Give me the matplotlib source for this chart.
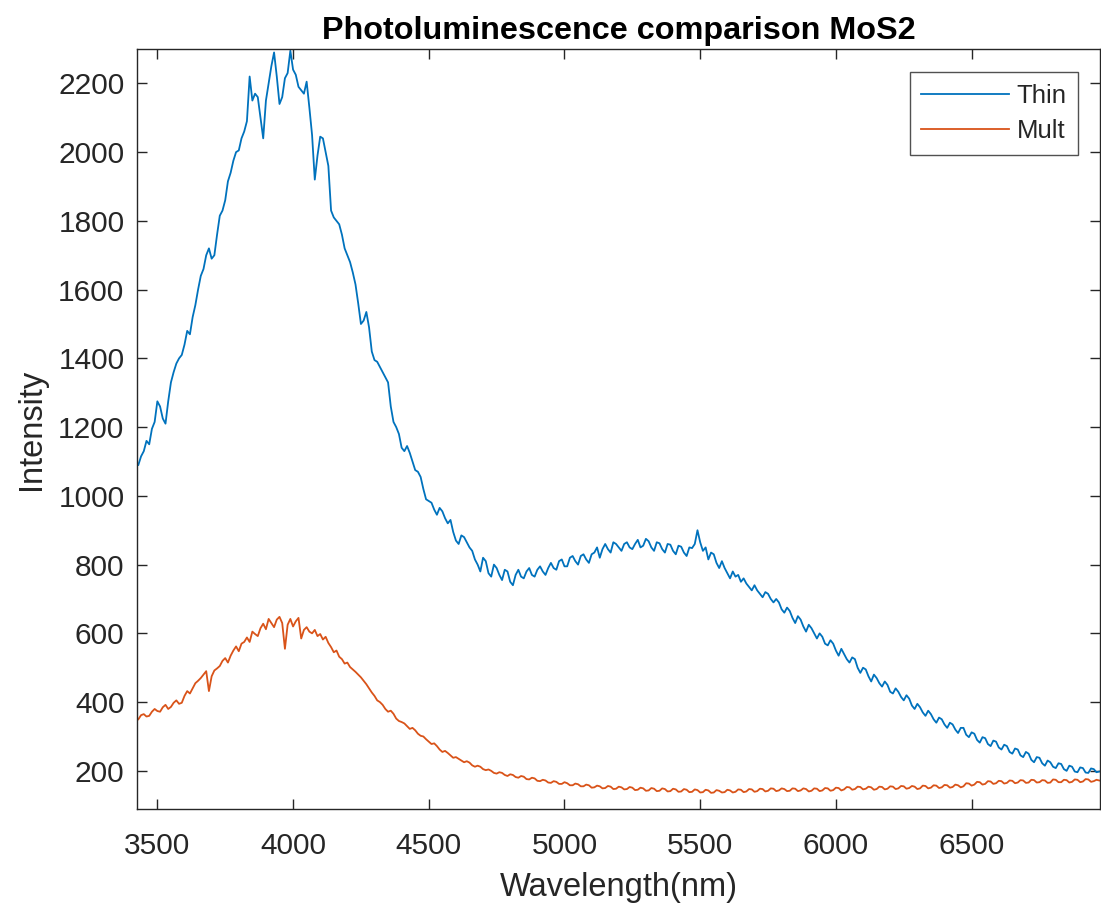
import numpy as np
import matplotlib
matplotlib.use("Agg")
import matplotlib.pyplot as plt

plt.rcParams['font.family'] = ['Liberation Sans', 'DejaVu Sans']

# Wavelength grid (nm), sampled every 10 nm
wavelength = np.arange(3430, 6971, 10)

thin = [
    1090, 1115, 1130, 1160, 1150, 1195, 1215, 1275, 1260, 1225, 1210, 1275, 1330, 1360, 1385, 1400, 1410, 1440, 1480, 1470,
    1520, 1555, 1600, 1640, 1660, 1700, 1720, 1690, 1700, 1760, 1815, 1830, 1860, 1915, 1940, 1975, 2000, 2005, 2040, 2060,
    2090, 2220, 2150, 2170, 2160, 2100, 2040, 2150, 2200, 2250, 2290, 2220, 2140, 2160, 2215, 2230, 2295, 2240, 2225, 2190,
    2180, 2170, 2205, 2130, 2050, 1920, 1990, 2045, 2040, 2000, 1960, 1830, 1810, 1800, 1790, 1760, 1720, 1700, 1680, 1650,
    1615, 1560, 1500, 1510, 1535, 1490, 1420, 1395, 1390, 1375, 1360, 1345, 1330, 1260, 1215, 1200, 1180, 1140, 1130, 1145,
    1125, 1100, 1075, 1070, 1055, 1020, 990, 985, 980, 960, 945, 965, 955, 935, 920, 930, 895, 870, 860, 885,
    880, 865, 850, 840, 815, 800, 780, 820, 810, 775, 765, 800, 790, 770, 755, 785, 780, 750, 740, 770,
    785, 765, 760, 780, 790, 770, 765, 785, 795, 780, 770, 790, 805, 790, 785, 810, 815, 795, 795, 820,
    825, 810, 800, 825, 830, 815, 805, 830, 835, 850, 820, 845, 860, 845, 835, 865, 860, 850, 840, 860,
    865, 850, 845, 860, 872, 850, 855, 875, 868, 850, 840, 865, 862, 845, 835, 860, 858, 840, 830, 855,
    852, 835, 825, 850, 848, 860, 900, 865, 840, 850, 815, 835, 830, 805, 790, 810, 790, 775, 760, 780,
    765, 770, 750, 760, 745, 735, 725, 740, 725, 715, 705, 720, 715, 700, 690, 700, 690, 670, 660, 675,
    665, 645, 630, 650, 640, 620, 605, 625, 615, 600, 585, 600, 590, 570, 565, 580, 570, 550, 535, 555,
    540, 525, 515, 530, 525, 500, 485, 500, 495, 475, 460, 480, 470, 455, 445, 460, 450, 430, 425, 440,
    430, 415, 405, 420, 410, 390, 380, 395, 385, 370, 360, 375, 365, 350, 340, 355, 350, 335, 325, 340,
    335, 320, 310, 325, 325, 305, 298, 312, 308, 290, 282, 298, 295, 278, 272, 288, 285, 268, 262, 276,
    272, 255, 250, 265, 262, 245, 240, 255, 250, 232, 225, 240, 238, 222, 215, 230, 225, 212, 208, 222,
    220, 205, 200, 215, 212, 198, 196, 210, 208, 195, 194, 207, 205, 196, 198,
]

mult = [
    350, 362, 365, 358, 360, 372, 380, 374, 372, 385, 392, 380, 386, 398, 405, 395, 398, 418, 432, 425,
    440, 455, 462, 470, 480, 490, 432, 475, 492, 498, 505, 520, 528, 515, 535, 550, 562, 548, 570, 575,
    588, 575, 605, 598, 592, 615, 628, 612, 642, 630, 618, 640, 648, 630, 555, 625, 642, 620, 635, 645,
    585, 610, 618, 605, 600, 610, 592, 598, 582, 590, 572, 560, 545, 550, 532, 525, 512, 515, 502, 495,
    488, 480, 472, 462, 452, 440, 428, 418, 405, 400, 392, 380, 372, 375, 366, 352, 345, 342, 338, 330,
    322, 325, 318, 308, 302, 300, 292, 285, 278, 280, 272, 262, 255, 258, 252, 245, 238, 240, 235, 230,
    225, 228, 224, 216, 212, 215, 212, 205, 202, 204, 200, 194, 192, 196, 194, 188, 185, 190, 188, 182,
    180, 185, 183, 176, 175, 180, 178, 171, 170, 174, 172, 166, 165, 170, 168, 162, 162, 167, 164, 158,
    158, 163, 161, 155, 155, 160, 158, 151, 152, 157, 155, 149, 150, 156, 154, 147, 148, 154, 152, 146,
    147, 153, 151, 144, 145, 151, 149, 142, 143, 150, 148, 141, 142, 149, 147, 140, 141, 148, 146, 139,
    140, 147, 145, 138, 139, 146, 144, 137, 138, 145, 143, 136, 137, 144, 142, 137, 138, 145, 143, 137,
    139, 146, 145, 138, 140, 147, 146, 139, 141, 148, 147, 140, 142, 149, 148, 141, 143, 149, 147, 141,
    142, 149, 148, 141, 143, 149, 147, 140, 142, 149, 148, 141, 143, 150, 149, 142, 144, 151, 150, 143,
    146, 153, 152, 145, 147, 154, 153, 146, 148, 154, 152, 145, 147, 154, 153, 146, 148, 155, 154, 147,
    149, 156, 155, 148, 150, 156, 154, 147, 149, 157, 156, 149, 151, 158, 157, 150, 152, 159, 158, 151,
    153, 160, 158, 152, 155, 164, 163, 157, 160, 168, 167, 160, 162, 170, 169, 162, 164, 171, 170, 163,
    165, 172, 171, 164, 166, 173, 172, 165, 166, 174, 173, 166, 167, 173, 172, 165, 166, 175, 174, 167,
    167, 174, 173, 166, 168, 175, 174, 167, 169, 176, 175, 168, 170, 174, 172,
]

series_names = ["Thin", "Mult"]
x_ticks = [3500, 4000, 4500, 5000, 5500, 6000, 6500]
y_ticks = [200, 400, 600, 800, 1000, 1200, 1400, 1600, 1800, 2000, 2200]

assert len(thin) == len(wavelength) == len(mult)

W, H = 1101, 905
fig = plt.figure(figsize=(W / 100, H / 100), dpi=100)
ax = fig.add_axes([137 / W, 1 - 809 / H, (1100 - 137) / W, (809 - 49) / H])

ax.plot(wavelength, thin, color='#0072BD', lw=1.3, label=series_names[0])
ax.plot(wavelength, mult, color='#D95319', lw=1.3, label=series_names[1])

ax.set_xlim(3425, 6973)
ax.set_ylim(89, 2300)
ax.set_xticks(x_ticks)
ax.set_yticks(y_ticks)

dark = '#262626'
for s in ax.spines.values():
    s.set_color(dark)
    s.set_linewidth(1.0)
ax.tick_params(direction='in', length=7, width=1.0, colors=dark,
               labelsize=21.5, top=True, right=True)
ax.tick_params(axis='x', pad=16.5)
ax.tick_params(axis='y', pad=9)

ax.set_xlabel('Wavelength(nm)', fontsize=23.5, color=dark, labelpad=9)
ax.set_ylabel('Intensity', fontsize=23.5, color=dark, labelpad=8)
ax.set_title('Photoluminescence comparison MoS2', fontsize=23.3,
             fontweight='bold', color='black', pad=7)

leg = ax.legend(loc='upper right', bbox_to_anchor=(1078 / W, 1 - 72 / H),
                bbox_transform=fig.transFigure, fontsize=18.5,
                frameon=True, fancybox=False, borderpad=0.45,
                handlelength=3.4, handletextpad=0.3, labelspacing=0.45,
                borderaxespad=0)
leg.get_frame().set_edgecolor(dark)
leg.get_frame().set_linewidth(1.0)
for t in leg.get_texts():
    t.set_color(dark)

fig.savefig('out.png', dpi=100)
